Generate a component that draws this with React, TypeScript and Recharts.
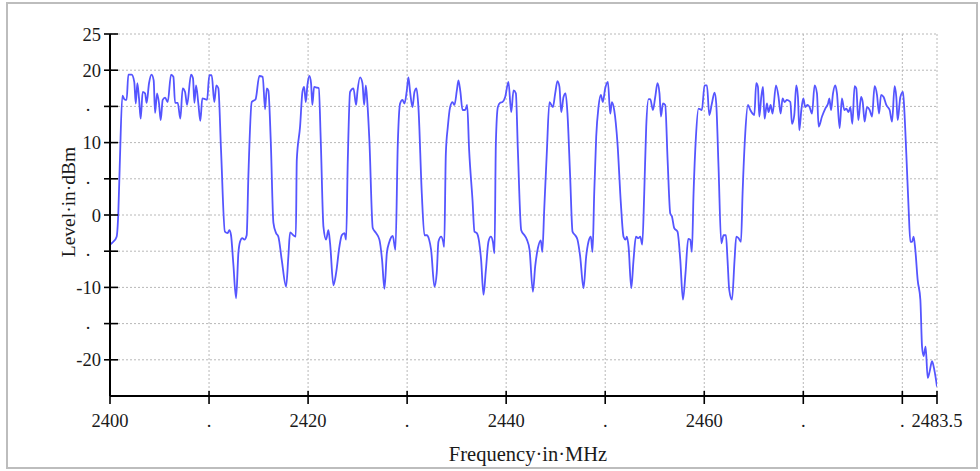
import { LineChart, Line, XAxis, YAxis, CartesianGrid } from 'recharts';

// spectrum trace (MHz / dBm)
const frequencyMHz = [
  2400.0, 2400.33, 2400.67, 2400.84, 2401.0, 2401.25, 2401.45, 2401.68, 2401.85, 2402.19,
  2402.45, 2402.6, 2402.76, 2402.93, 2403.1, 2403.3, 2403.54, 2403.7, 2403.94, 2404.2,
  2404.41, 2404.55, 2404.75, 2404.95, 2405.12, 2405.32, 2405.56, 2405.83, 2406.16, 2406.4,
  2406.57, 2406.84, 2407.1, 2407.34, 2407.58, 2407.78, 2408.18, 2408.38, 2408.52, 2408.69,
  2408.92, 2409.12, 2409.32, 2409.6, 2409.8, 2410.03, 2410.27, 2410.53, 2410.74, 2410.94,
  2411.21, 2411.6, 2411.88, 2412.05, 2412.22, 2412.45, 2412.73, 2412.96, 2413.13, 2413.36,
  2413.57, 2413.8, 2413.97, 2414.31, 2414.7, 2415.08, 2415.42, 2415.66, 2415.83, 2415.99,
  2416.23, 2416.5, 2416.77, 2417.0, 2417.34, 2417.78, 2418.01, 2418.18, 2418.52, 2418.76,
  2418.86, 2419.19, 2419.43, 2419.6, 2419.77, 2419.93, 2420.13, 2420.3, 2420.43, 2420.61,
  2420.87, 2421.08, 2421.28, 2421.55, 2421.82, 2422.05, 2422.22, 2422.56, 2422.83, 2423.16,
  2423.4, 2423.67, 2423.84, 2424.01, 2424.24, 2424.58, 2424.85, 2424.98, 2425.25, 2425.49,
  2425.66, 2425.83, 2425.99, 2426.19, 2426.53, 2426.87, 2427.2, 2427.47, 2427.71, 2427.95,
  2428.21, 2428.55, 2428.82, 2429.06, 2429.29, 2429.53, 2429.73, 2429.97, 2430.13, 2430.3,
  2430.54, 2430.74, 2430.94, 2431.14, 2431.48, 2431.75, 2431.99, 2432.22, 2432.42, 2432.76,
  2432.99, 2433.16, 2433.43, 2433.64, 2433.74, 2433.91, 2434.11, 2434.34, 2434.58, 2434.78,
  2435.02, 2435.18, 2435.38, 2435.59, 2435.86, 2436.06, 2436.26, 2436.6, 2436.8, 2437.04,
  2437.27, 2437.47, 2437.71, 2437.95, 2438.21, 2438.45, 2438.66, 2438.82, 2438.96, 2439.16,
  2439.39, 2439.63, 2439.9, 2440.23, 2440.51, 2440.74, 2440.98, 2441.18, 2441.52, 2441.85,
  2442.09, 2442.36, 2442.7, 2442.93, 2443.2, 2443.5, 2443.65, 2443.84, 2444.1, 2444.37,
  2444.72, 2444.95, 2445.18, 2445.38, 2445.56, 2445.79, 2446.0, 2446.19, 2446.46, 2446.7,
  2446.97, 2447.2, 2447.47, 2447.81, 2448.08, 2448.31, 2448.55, 2448.72, 2448.89, 2449.09,
  2449.32, 2449.56, 2449.76, 2450.0, 2450.27, 2450.51, 2450.67, 2450.91, 2451.24, 2451.58,
  2451.85, 2452.05, 2452.19, 2452.36, 2452.63, 2452.86, 2453.1, 2453.36, 2453.54, 2453.74,
  2453.94, 2454.14, 2454.38, 2454.55, 2454.82, 2455.05, 2455.28, 2455.48, 2455.63, 2455.83,
  2456.06, 2456.3, 2456.57, 2456.74, 2456.97, 2457.3, 2457.58, 2457.85, 2458.11, 2458.38,
  2458.59, 2458.75, 2458.92, 2459.16, 2459.42, 2459.76, 2460.03, 2460.27, 2460.51, 2460.77,
  2461.04, 2461.21, 2461.44, 2461.72, 2461.95, 2462.19, 2462.35, 2462.52, 2462.8, 2463.06,
  2463.23, 2463.46, 2463.71, 2463.87, 2464.14, 2464.41, 2464.65, 2464.88, 2465.05, 2465.25,
  2465.42, 2465.56, 2465.76, 2465.93, 2466.09, 2466.33, 2466.49, 2466.7, 2466.9, 2467.24,
  2467.5, 2467.71, 2467.91, 2468.11, 2468.35, 2468.69, 2468.86, 2469.09, 2469.29, 2469.46,
  2469.6, 2469.8, 2470.0, 2470.2, 2470.43, 2470.64, 2470.88, 2471.14, 2471.38, 2471.55,
  2471.89, 2472.22, 2472.5, 2472.63, 2472.8, 2473.0, 2473.23, 2473.4, 2473.67, 2473.9,
  2474.14, 2474.34, 2474.57, 2474.75, 2474.95, 2475.18, 2475.35, 2475.56, 2475.83, 2476.0,
  2476.19, 2476.43, 2476.7, 2476.94, 2477.2, 2477.44, 2477.65, 2477.85, 2478.11, 2478.38,
  2478.72, 2478.96, 2479.22, 2479.39, 2479.53, 2479.8, 2480.07, 2480.2, 2480.4, 2480.64,
  2480.81, 2480.98, 2481.14, 2481.31, 2481.55, 2481.82, 2481.99, 2482.15, 2482.35, 2482.56,
  2482.76, 2483.0, 2483.23, 2483.5,
];

const levelDbm = [
  -4.1, -3.7, -3.0, 0.3, 7.6, 16.5, 16.0, 15.9, 19.4, 19.4,
  18.4, 15.4, 18.2, 16.1, 13.3, 17.0, 16.8, 15.5, 18.2, 19.4,
  18.6, 14.1, 16.8, 15.4, 13.1, 15.9, 16.2, 15.6, 19.4, 19.1,
  15.5, 15.5, 13.3, 17.5, 17.0, 15.2, 19.4, 18.9, 15.5, 17.9,
  15.4, 13.0, 16.1, 16.0, 15.9, 19.3, 19.3, 15.6, 17.9, 17.5,
  9.0, -2.3, -2.5, -2.1, -2.8, -6.7, -11.5, -5.3, -3.7, -3.2,
  -3.4, -2.8, 5.3, 15.6, 16.0, 19.2, 19.1, 14.6, 17.5, 17.2,
  10.3, -1.1, -2.5, -3.0, -6.2, -9.9, -5.7, -2.4, -2.8, -3.0,
  7.6, 12.2, 17.0, 17.7, 15.6, 17.9, 19.2, 18.2, 15.2, 17.7,
  17.6, 17.5, 10.3, -1.6, -3.4, -2.1, -3.9, -9.7, -8.0, -4.4,
  -2.8, -2.5, -3.4, 7.6, 17.0, 17.5, 15.2, 17.0, 19.0, 18.2,
  15.2, 17.9, 15.4, 10.3, -1.8, -2.5, -3.4, -6.2, -10.2, -5.3,
  -3.7, -2.9, -4.8, 9.9, 15.4, 15.9, 15.4, 17.2, 19.0, 17.0,
  14.9, 17.0, 17.5, 14.9, 3.0, -2.8, -2.8, -3.4, -4.8, -9.9,
  -8.0, -3.7, -3.0, -3.7, -4.4, 8.5, 12.2, 14.9, 15.6, 15.2,
  17.2, 18.6, 17.0, 14.5, 14.5, 15.2, 9.0, 2.1, -2.3, -2.5,
  -3.7, -6.2, -11.0, -7.6, -3.7, -3.0, -3.7, -5.3, 9.9, 14.9,
  15.5, 15.6, 16.3, 18.4, 14.2, 17.2, 16.8, 9.0, -2.1, -2.8,
  -3.4, -4.8, -10.6, -7.1, -4.6, -3.5, -5.1, 0.7, 8.5, 15.6,
  14.9, 16.8, 18.5, 17.7, 14.2, 16.3, 16.8, 14.0, 5.3, -2.3,
  -2.8, -3.4, -5.7, -10.1, -5.7, -3.7, -3.0, -5.1, 3.0, 10.8,
  14.9, 16.6, 15.6, 17.5, 18.4, 14.0, 15.6, 14.5, 9.9, 1.6,
  -3.0, -3.4, -3.0, -4.4, -10.1, -6.2, -3.0, -3.2, -3.0, -4.1,
  3.0, 12.2, 16.0, 16.0, 14.5, 16.3, 18.2, 16.8, 13.6, 15.4,
  15.2, 7.6, 0.2, -0.2, -1.8, -2.3, -6.2, -11.7, -8.0, -3.3,
  -3.4, -5.1, 3.0, 10.8, 14.7, 14.5, 17.9, 17.9, 13.8, 15.4,
  16.9, 15.4, 6.7, -3.9, -2.8, -2.8, -6.2, -10.3, -11.7, -6.2,
  -3.0, -3.2, -3.7, 3.0, 11.3, 15.2, 14.5, 14.0, 13.8, 18.2,
  17.7, 13.6, 16.3, 17.7, 13.3, 15.4, 14.2, 15.2, 14.0, 17.9,
  16.3, 14.0, 16.1, 15.6, 15.9, 15.6, 12.6, 13.8, 17.9, 16.3,
  11.7, 14.5, 16.1, 14.9, 15.2, 14.9, 14.0, 17.9, 16.8, 12.2,
  13.6, 14.7, 15.4, 16.1, 14.5, 16.8, 17.9, 16.8, 12.0, 16.1,
  14.5, 14.7, 14.2, 14.9, 12.6, 17.8, 17.5, 13.1, 16.3, 15.6,
  12.9, 14.9, 14.5, 13.6, 17.8, 16.6, 14.0, 16.6, 16.3, 15.2,
  14.5, 12.9, 17.8, 16.3, 13.1, 16.3, 17.0, 14.5, 8.5, 0.7,
  -3.7, -3.7, -3.0, -4.8, -9.0, -11.7, -18.2, -19.5, -18.2, -22.5,
  -21.6, -20.2, -21.4, -23.7,
];

const xTicks = [2400, 2410, 2420, 2430, 2440, 2450, 2460, 2470, 2480, 2483.5];
const xLabeled = [2400, 2420, 2440, 2460, 2483.5];
const yTicks = [-20, -15, -10, -5, 0, 5, 10, 15, 20, 25];
const yLabeled = [-20, -10, 0, 10, 20, 25];

const data = frequencyMHz.map((f, i) => ({ freq: f, level: levelDbm[i] }));

const serif = '"Liberation Serif", "DejaVu Serif", serif';
const ink = '#1a1a1a';

function XTick(props: any) {
  const { x, y, payload } = props;
  const v = payload.value;
  const label = xLabeled.includes(v) ? String(v) : '.';
  return (
    <g>
      <line x1={x} x2={x} y1={y - 5} y2={y + 8} stroke="#000" strokeWidth={1.6} />
      <text x={x} y={y + 31} textAnchor="middle" fontFamily={serif} fontSize={18.5} fill={ink}>
        {label}
      </text>
    </g>
  );
}

function YTick(props: any) {
  const { x, y, payload } = props;
  const v = payload.value;
  const labeled = yLabeled.includes(v);
  return (
    <g>
      <line x1={x - 6} x2={x + 8} y1={y} y2={y} stroke="#000" strokeWidth={1.6} />
      {labeled ? (
        <text x={x - 9} y={y + 6.5} textAnchor="end" fontFamily={serif} fontSize={18.5} fill={ink}>
          {String(v)}
        </text>
      ) : (
        <text x={x - 22} y={y + 5} textAnchor="middle" fontFamily={serif} fontSize={18.5} fill={ink}>
          .
        </text>
      )}
    </g>
  );
}

export default function App() {
  return (
    <div style={{ position: 'relative', width: 980, height: 471, background: '#fff', overflow: 'hidden' }}>
      <style>{'body { margin: 0; }'}</style>
      <LineChart
        width={980}
        height={471}
        data={data}
        margin={{ top: 34, right: 43, bottom: 0, left: 0 }}
      >
        <CartesianGrid stroke="#b8b8b8" strokeDasharray="2 2" />
        <XAxis
          dataKey="freq"
          type="number"
          domain={[2400, 2483.5]}
          ticks={xTicks}
          interval={0}
          height={75}
          tick={<XTick />}
          tickLine={false}
          tickSize={0}
          tickMargin={0}
          axisLine={{ stroke: '#000', strokeWidth: 2 }}
          allowDataOverflow
        />
        <YAxis
          type="number"
          domain={[-25, 25]}
          ticks={yTicks}
          interval={0}
          width={110}
          tick={<YTick />}
          tickLine={false}
          tickSize={0}
          tickMargin={0}
          axisLine={{ stroke: '#000', strokeWidth: 2 }}
          allowDataOverflow
        />
        <Line
          type="monotone"
          dataKey="level"
          stroke="#5555ff"
          strokeWidth={1.8}
          dot={false}
          isAnimationActive={false}
        />
      </LineChart>
      <svg
        width={980}
        height={471}
        style={{ position: 'absolute', left: 0, top: 0, pointerEvents: 'none' }}
      >
        <rect x={7} y={3} width={970} height={465} fill="none" stroke="#bdbdbd" strokeWidth={2} />
        <text
          x={0}
          y={0}
          transform="translate(75 202) rotate(-90)"
          textAnchor="middle"
          fontFamily={serif}
          fontSize={19.5}
          fill={ink}
        >
          Level·in·dBm
        </text>
        <text x={528} y={461} textAnchor="middle" fontFamily={serif} fontSize={20.5} fill={ink}>
          Frequency·in·MHz
        </text>
      </svg>
    </div>
  );
}
